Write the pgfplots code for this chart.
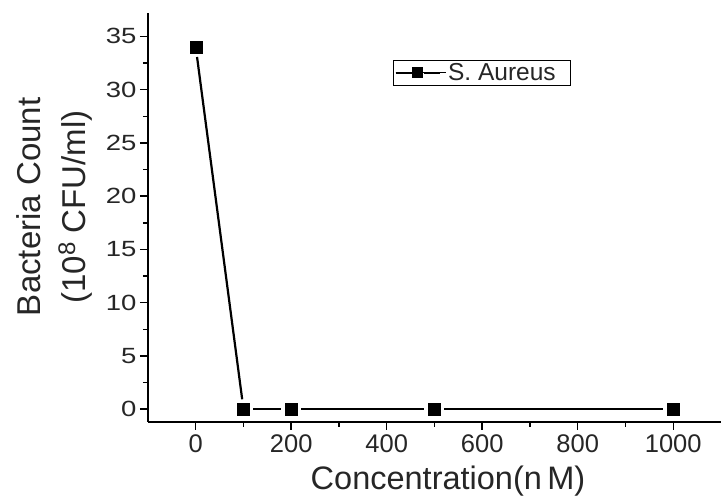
\documentclass[border=0pt]{standalone}
\usepackage{pgfplots}
\pgfplotsset{compat=1.18}
\usepackage{fontspec}
\setmainfont{Liberation Sans}
\newfontfamily\ytickfont[FakeStretch=1.25]{Liberation Sans}
\begin{document}
\begin{tikzpicture}
\useasboundingbox (-148pt,-75pt) rectangle (573pt,422pt);
\begin{axis}[
  at={(0pt,0pt)}, anchor=south west,
  scale only axis,
  width=573pt, height=409pt,
  xmin=-100, xmax=1100, ymin=-1.2, ymax=37.2,
  axis lines=left,
  axis line style={-, line width=1.8pt},
  tick align=outside,
  major tick length=8pt, minor tick length=5pt,
  tick style={line width=1.5pt, black},
  xtick={0,200,...,1000}, ytick={0,5,...,35},
  minor x tick num=1, minor y tick num=1,
  /pgf/number format/assume math mode=true,
  /pgf/number format/1000 sep={},
  xticklabel style={font=\fontsize{25.5}{28}\selectfont, color=black!85, yshift=-1pt},
  yticklabel style={font=\ytickfont\fontsize{22}{26}\selectfont, color=black!85, xshift=0pt},
  xlabel={Concentration(n\,M)},
  ylabel={Bacteria Count\\(10\raisebox{0.3em}{\fontsize{24}{24}\selectfont 8} CFU/ml)},
  xlabel style={font=\fontsize{32.5}{34}\selectfont, color=black!85,
    at={([yshift=-68pt]axis description cs:0.5236,0)}, anchor=base},
  ylabel style={font=\fontsize{33}{45}\selectfont, color=black!85, align=center,
    at={([xshift=-94pt]axis description cs:0,0.526)}, anchor=center},
  legend style={at={(0.4276,0.885)}, anchor=north west, draw=black, line width=1pt,
    font=\fontsize{24.5}{26}\selectfont, inner sep=1pt, text=black!85},
  legend image code/.code={
    \path (0pt,0pt) -- (50pt,0pt);
    \draw[line width=2.2pt] (0pt,0pt) -- (16pt,0pt);
    \draw[line width=2.2pt] (28pt,0pt) -- (44pt,0pt);
    \fill[black] (22pt-5pt,-5pt) rectangle (22pt+5pt,5pt);
  },
  legend cell align=left,
  clip=false,
]
\addplot[forget plot, black, line width=2.2pt, shorten >=10pt, shorten <=10pt] coordinates {(0,34) (100,0)};
\addplot[forget plot, black, line width=2.2pt, shorten >=10pt, shorten <=10pt] coordinates {(100,0) (200,0)};
\addplot[forget plot, black, line width=2.2pt, shorten >=10pt, shorten <=10pt] coordinates {(200,0) (500,0)};
\addplot[forget plot, black, line width=2.2pt, shorten >=10pt, shorten <=10pt] coordinates {(500,0) (1000,0)};
\addplot[only marks, mark=square*, mark size=6pt, black] coordinates {(0,34) (100,0) (200,0) (500,0) (1000,0)};
\addlegendentry{S. Aureus\kern12pt}
\end{axis}
\end{tikzpicture}
\end{document}
